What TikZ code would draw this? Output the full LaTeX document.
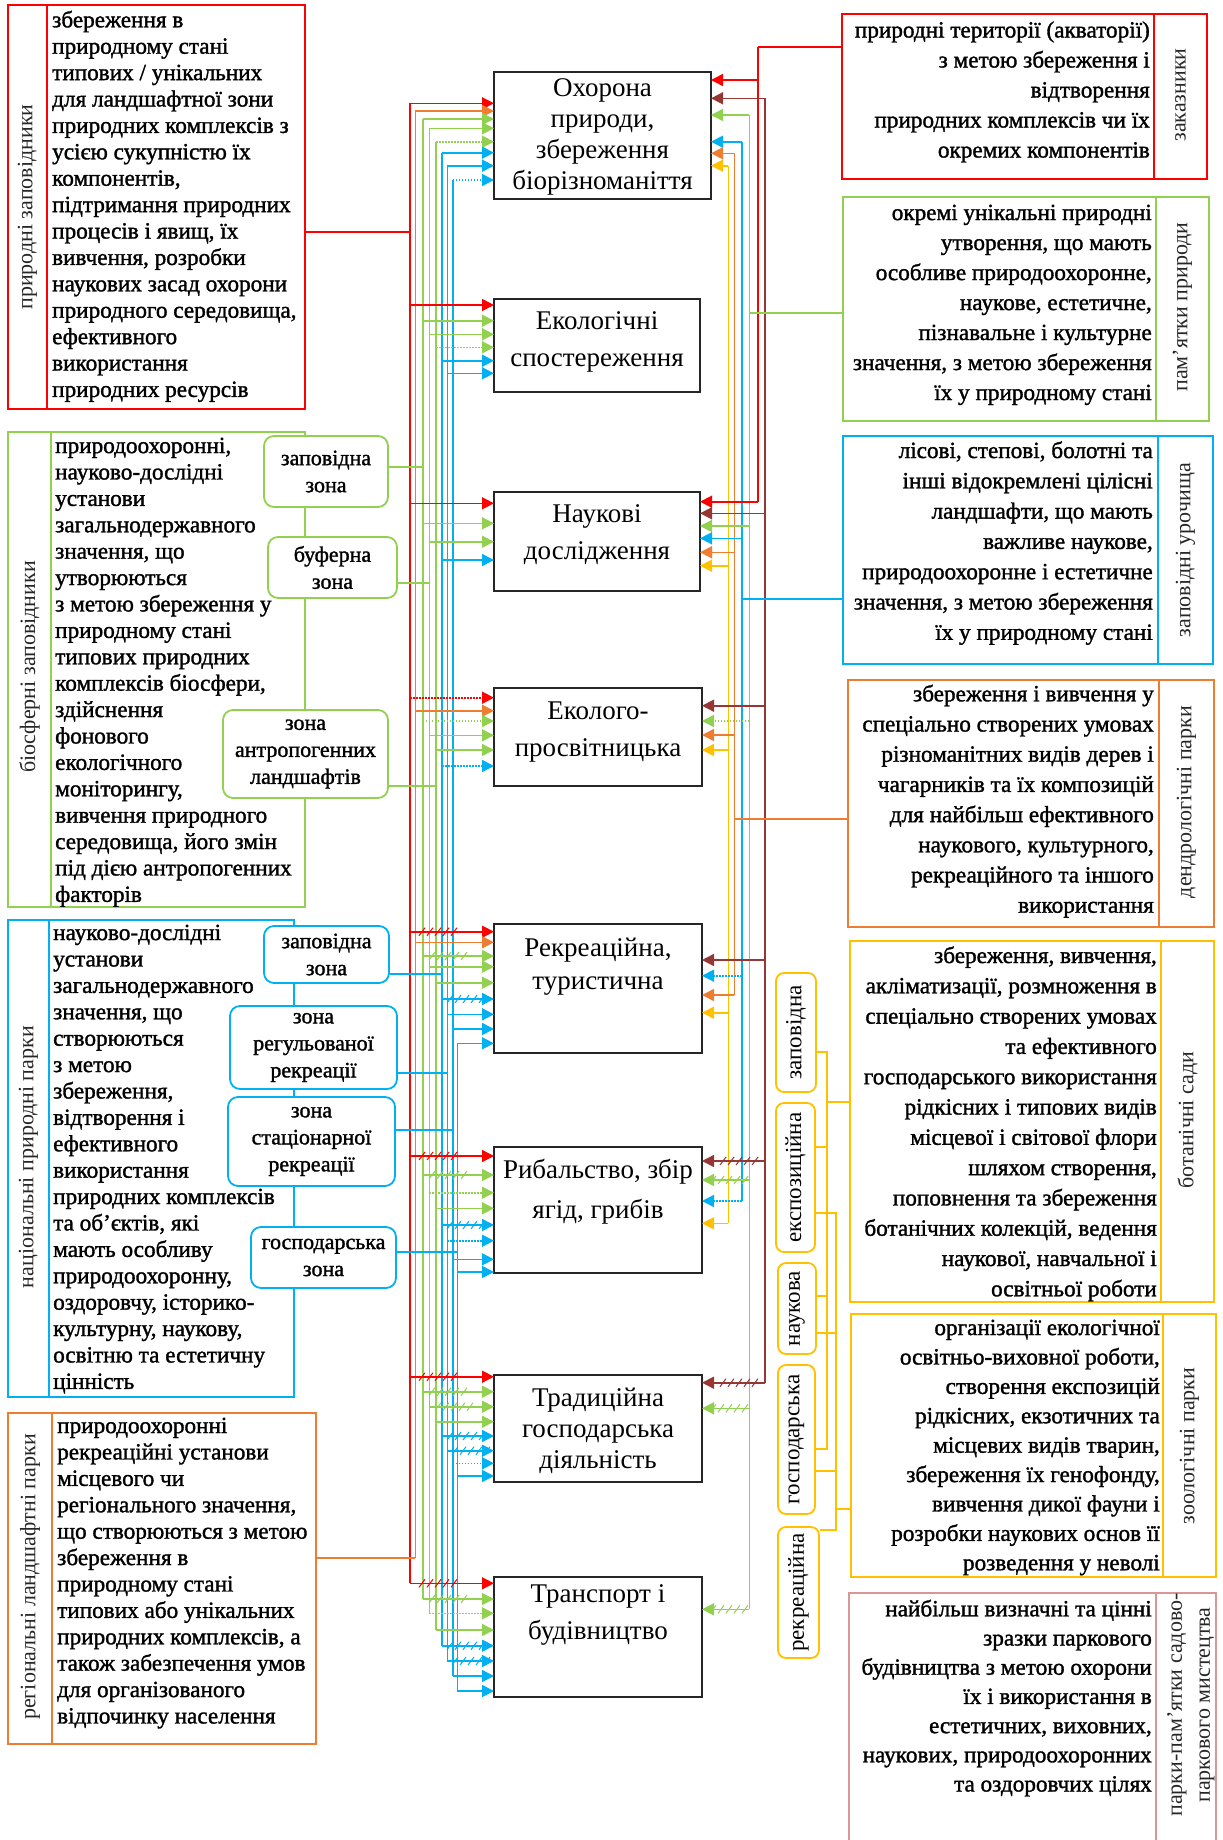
\documentclass[tikz,border=0pt]{standalone}
\usepackage{fontspec}
\usepackage{graphicx}
\setmainfont{Liberation Serif}
\newfontfamily\bodyf[FakeBold=1.4]{Liberation Serif}
\usetikzlibrary{arrows.meta}
\definecolor{cR}{HTML}{FF0000}
\definecolor{cO}{HTML}{ED7D31}
\definecolor{cG}{HTML}{92D050}
\definecolor{cB}{HTML}{00B0F0}
\definecolor{cY}{HTML}{FFC000}
\definecolor{cBr}{HTML}{953735}
\definecolor{cPk}{HTML}{D99694}
\newcommand\la[4]{\draw[arr,#1] (#2,#3) -- (#4.west |- 0,#3);}
\newcommand\ra[4]{\draw[arr,#1] (#2,#3) -- (#4.east |- 0,#3);}
\newcommand\hm[3]{\foreach \k in {0,...,4}{\draw[#1,line width=1pt] ({#2+8*\k-3},{#3+4})--({#2+8*\k+3},{#3-4});}}
\begin{document}
\begin{tikzpicture}[x=1pt,y=-1pt,
 ln/.style={line width=1.6pt},
 arr/.style={line width=1.6pt,-{Triangle[length=12pt,width=12pt]}},
 dotl/.style={dash pattern=on 1.5pt off 1.5pt},
 cbox/.style={draw=black!85,line width=1.6pt,fill=white,inner sep=0,outer sep=0,anchor=north west},
 sbox/.style={line width=1.6pt,inner sep=0,outer sep=0,anchor=north west},
 ltxt/.style={font=\bodyf\fontsize{23.2}{26.4}\selectfont,inner sep=0,align=left,anchor=north west},
 rtxt/.style={font=\bodyf\fontsize{23.2}{30}\selectfont,inner sep=0,align=right,anchor=north east},
 ctxt/.style={inner sep=0,align=center},
 lab/.style={font=\fontsize{22}{28}\selectfont,inner sep=0,rotate=90,text=black!85},
 zone/.style={rounded corners=10pt,fill=white,line width=1.8pt,inner sep=0,align=center,font=\bodyf\fontsize{22}{27}\selectfont},
 yzone/.style={rounded corners=8pt,fill=white,draw=cY,line width=1.8pt,inner sep=0,font=\fontsize{23}{26}\selectfont},
]
\path[fill=white] (0,0) rectangle (1223,1840);
\useasboundingbox (0,0) rectangle (1223,1840);

% ---------- side boxes ----------
\node[sbox,draw=cR,minimum width=297pt,minimum height=404pt] (A) at (8,5) {};
\draw[cR,line width=1.6pt] (47,5) -- (47,409);
\node[sbox,draw=cG,minimum width=297pt,minimum height=475pt] (B) at (8,432) {};
\draw[cG,line width=1.6pt] (51,432) -- (51,907);
\node[sbox,draw=cB,minimum width=286pt,minimum height=477pt] (C) at (8,920) {};
\draw[cB,line width=1.6pt] (49,920) -- (49,1397);
\node[sbox,draw=cO,minimum width=308pt,minimum height=331pt] (D) at (8,1413) {};
\draw[cO,line width=1.6pt] (52,1413) -- (52,1744);

\node[sbox,draw=cR,minimum width=365pt,minimum height=165pt] (K) at (842,14) {};
\draw[cR,line width=1.6pt] (1154,14) -- (1154,179);
\node[sbox,draw=cG,minimum width=366pt,minimum height=224pt] (P) at (843,197) {};
\draw[cG,line width=1.6pt] (1156,197) -- (1156,421);
\node[sbox,draw=cB,minimum width=370pt,minimum height=228pt] (U) at (843,436) {};
\draw[cB,line width=1.6pt] (1158,436) -- (1158,664);
\node[sbox,draw=cO,minimum width=366pt,minimum height=247pt] (Dn) at (848,680) {};
\draw[cO,line width=1.6pt] (1159,680) -- (1159,927);
\node[sbox,draw=cY,minimum width=364pt,minimum height=361pt] (Bs) at (850,941) {};
\draw[cY,line width=1.6pt] (1161,941) -- (1161,1302);
\node[sbox,draw=cY,minimum width=365pt,minimum height=263pt] (Z) at (851,1314) {};
\draw[cY,line width=1.6pt] (1163,1314) -- (1163,1577);
\node[sbox,draw=cPk,minimum width=367pt,minimum height=260pt] (Pp) at (849,1593) {};
\draw[cPk,line width=1.6pt] (1156,1593) -- (1156,1853);

% ---------- zone boxes ----------
\node[zone,draw=cG,minimum width=124pt,minimum height=71pt] (bz1) at (326,471.5) {заповідна\\зона};
\node[zone,draw=cG,minimum width=129pt,minimum height=61pt] (bz2) at (332.5,567.5) {буферна\\зона};
\node[zone,draw=cG,minimum width=165pt,minimum height=88pt] (bz3) at (305.5,754) {зона\\антропогенних\\ландшафтів};
\node[zone,draw=cB,minimum width=125pt,minimum height=57pt] (nz1) at (326.5,954.5) {заповідна\\зона};
\node[zone,draw=cB,minimum width=167pt,minimum height=83pt] (nz2) at (313.5,1047.5) {зона\\регульованої\\рекреації};
\node[zone,draw=cB,minimum width=167pt,minimum height=89pt] (nz3) at (311.5,1141.5) {зона\\стаціонарної\\рекреації};
\node[zone,draw=cB,minimum width=145pt,minimum height=61pt] (nz4) at (323.5,1257.5) {господарська\\зона};

\node[yzone,minimum width=40pt,minimum height=119pt] (y1) at (796,1032.5) {\rotatebox{90}{заповідна}};
\node[yzone,minimum width=39pt,minimum height=149pt] (y2) at (795.5,1177.5) {\rotatebox{90}{експозиційна}};
\node[yzone,minimum width=38pt,minimum height=91pt] (y3) at (797,1308.5) {\rotatebox{90}{наукова}};
\node[yzone,minimum width=37pt,minimum height=149pt] (y4) at (796.5,1439.5) {\rotatebox{90}{господарська}};
\node[yzone,minimum width=41pt,minimum height=131pt] (y5) at (798.5,1592.5) {\rotatebox{90}{рекреаційна}};

% ---------- central boxes ----------
\node[cbox,minimum width=217pt,minimum height=127pt] (c1) at (494,72) {};
\node[cbox,minimum width=206pt,minimum height=93pt] (c2) at (494,299) {};
\node[cbox,minimum width=206pt,minimum height=99pt] (c3) at (494,492) {};
\node[cbox,minimum width=208pt,minimum height=98pt] (c4) at (494,688) {};
\node[cbox,minimum width=208pt,minimum height=129pt] (c5) at (494,924) {};
\node[cbox,minimum width=208pt,minimum height=126pt] (c6) at (494,1147) {};
\node[cbox,minimum width=208pt,minimum height=107pt] (c7) at (494,1375) {};
\node[cbox,minimum width=208pt,minimum height=120pt] (c8) at (494,1577) {};

\node[ctxt,font=\fontsize{27}{31}\selectfont] (t1) at (602.5,136.5) {Охорона\\природи,\\збереження\\біорізноманіття};
\node[ctxt,font=\fontsize{27}{37}\selectfont] (t2) at (597,341.5) {Екологічні\\спостереження};
\node[ctxt,font=\fontsize{27}{37}\selectfont] (t3) at (597,535) {Наукові\\дослідження};
\node[ctxt,font=\fontsize{27}{37}\selectfont] (t4) at (598,731.7) {Еколого-\\просвітницька};
\node[ctxt,font=\fontsize{27}{33.5}\selectfont] (t5) at (598,966.7) {Рекреаційна,\\туристична};
\node[ctxt,font=\fontsize{27}{40}\selectfont] (t6) at (598,1191.7) {Рибальство, збір\\ягід, грибів};
\node[ctxt,font=\fontsize{27}{31}\selectfont] (t7) at (598,1431) {Традиційна\\господарська\\діяльність};
\node[ctxt,font=\fontsize{27}{37}\selectfont] (t8) at (598,1615) {Транспорт і\\будівництво};

% ---------- buses ----------
\draw[ln,cR] (410,103.3) -- (410,1583.3);
\draw[ln,cO] (415.3,111) -- (415.3,1558);
\draw[ln,cG] (422.7,119) -- (422.7,1599);
\draw[ln,cG] (429.3,128.3) -- (429.3,1613.3);
\draw[ln,cG] (436,141.7) -- (436,1630);
\draw[ln,cB] (442,152.7) -- (442,1645.7);
\draw[ln,cB] (447.3,165.7) -- (447.3,1661);
\draw[ln,cB] (452.7,180) -- (452.7,1676);
\draw[ln,cB] (457.3,1043.3) -- (457.3,1691);

\draw[ln,cY] (728.3,165.7) -- (728.3,1223.3);
\draw[ln,cO] (734.3,153.3) -- (734.3,995);
\draw[ln,cB] (741.7,141.7) -- (741.7,1201);
\draw[ln,cG] (749.3,115) -- (749.3,1609.3);
\draw[ln,cR] (757.7,46.7) -- (757.7,501.7);
\draw[ln,cBr] (765,98.3) -- (765,1382.7);

% ---------- connectors from boxes to buses ----------
\draw[ln,cR] (A.east |- 0,232) -- (410,232);
\draw[ln,cO] (D.east |- 0,1558) -- (415.3,1558);
\draw[ln,cG] (bz1.east |- 0,467) -- (422.7,467);
\draw[ln,cG] (bz2.east |- 0,583) -- (429.3,583);
\draw[ln,cG] (bz3.east |- 0,786) -- (436,786);
\draw[ln,cB] (nz1.east |- 0,974) -- (442,974);
\draw[ln,cB] (nz2.east |- 0,1073) -- (447.3,1073);
\draw[ln,cB] (nz3.east |- 0,1130) -- (452.7,1130);
\draw[ln,cB] (nz4.east |- 0,1252) -- (457.3,1252);
\draw[ln,cR] (K.west |- 0,46.7) -- (757.7,46.7);
\draw[ln,cG] (P.west |- 0,313) -- (749.3,313);
\draw[ln,cB] (U.west |- 0,599) -- (741.7,599);
\draw[ln,cO] (Dn.west |- 0,819) -- (734.3,819);

% yellow tree
\draw[ln,cY] (y1.east |- 0,1052) -- (827,1052) -- (827,1449) -- (y4.east |- 0,1449);
\draw[ln,cY] (y2.east |- 0,1147) -- (827,1147);
\draw[ln,cY] (y3.east |- 0,1296) -- (827,1296);
\draw[ln,cY] (827,1102) -- (Bs.west |- 0,1102);
\draw[ln,cY] (y2.east |- 0,1213) -- (836,1213) -- (836,1530) -- (y5.east |- 0,1530);
\draw[ln,cY] (y3.east |- 0,1333) -- (836,1333);
\draw[ln,cY] (y4.east |- 0,1471) -- (836,1471);
\draw[ln,cY] (836,1509) -- (Z.west |- 0,1509);

% ---------- left arrows ----------
\la{cR}{410}{103.3}{c1} \la{cO}{415.3}{111}{c1} \la{cG}{422.7}{119}{c1} \la{cG}{429.3}{128.3}{c1}
\la{cG,dotl}{436}{141.7}{c1} \la{cB}{442}{152.7}{c1} \la{cB}{447.3}{165.7}{c1} \la{cB,dotl}{452.7}{180}{c1}

\la{cR}{410}{305}{c2} \la{cG}{422.7}{320.7}{c2} \la{cG}{429.3}{334.3}{c2} \la{cG,dotl}{436}{347.3}{c2}
\la{cB}{442}{360.7}{c2} \la{cB}{447.3}{373.3}{c2}

\la{cR}{410}{503.3}{c3} \la{cG}{422.7}{523.3}{c3} \la{cG}{429.3}{541.7}{c3} \la{cB}{442}{560}{c3}

\la{cR,dotl}{410}{697.7}{c4} \la{cO}{415.3}{710.7}{c4} \la{cG,dotl}{422.7}{721}{c4} \la{cG}{429.3}{735.3}{c4}
\la{cG}{436}{750}{c4} \la{cB,dotl}{442}{766}{c4}

\la{cR}{410}{931.7}{c5} \la{cO}{415.3}{942.3}{c5} \la{cG}{422.7}{956}{c5} \la{cG}{429.3}{966.7}{c5}
\la{cG}{436}{982.7}{c5} \la{cB}{442}{999}{c5} \la{cB}{447.3}{1014.3}{c5} \la{cB}{452.7}{1029}{c5} \la{cB}{457.3}{1043.3}{c5}
\hm{cR}{422}{931.7} \hm{cG}{432}{956} \hm{cB}{450}{999}

\la{cR}{410}{1156}{c6} \la{cG}{422.7}{1175}{c6} \la{cG,dotl}{429.3}{1192.7}{c6} \la{cG}{436}{1208.3}{c6}
\la{cB}{442}{1225}{c6} \la{cB,dotl}{447.3}{1240.7}{c6} \la{cB}{452.7}{1259.3}{c6} \la{cB}{457.3}{1272}{c6}
\hm{cR}{422}{1156} \hm{cG}{432}{1175} \hm{cB}{450}{1225}

\la{cR}{410}{1376.7}{c7} \la{cG}{422.7}{1391.7}{c7} \la{cG}{429.3}{1406.7}{c7} \la{cG}{436}{1421.7}{c7}
\la{cB}{442}{1436}{c7} \la{cB}{447.3}{1450.7}{c7} \la{cB,dotl}{452.7}{1463.3}{c7} \la{cB}{457.3}{1476}{c7}
\hm{cR}{422}{1376.7} \hm{cG}{432}{1391.7} \hm{cG}{438}{1406.7} \hm{cB}{450}{1436} \hm{cB}{455}{1450.7}

\la{cR}{410}{1583.3}{c8} \la{cG}{422.7}{1599}{c8} \la{cG,dotl}{429.3}{1613.3}{c8} \la{cG}{436}{1630}{c8}
\la{cB}{442}{1645.7}{c8} \la{cB}{447.3}{1661}{c8} \la{cB}{452.7}{1676}{c8} \la{cB}{457.3}{1691}{c8}
\hm{cR}{422}{1583.3} \hm{cG}{432}{1599} \hm{cB}{450}{1645.7} \hm{cB}{455}{1661}

% ---------- right arrows ----------
\ra{cR}{757.7}{80}{c1} \ra{cBr}{765}{98.3}{c1} \ra{cG}{749.3}{115}{c1} \ra{cB}{741.7}{141.7}{c1}
\ra{cO}{734.3}{153.3}{c1} \ra{cY}{728.3}{165.7}{c1}

\ra{cR}{757.7}{501.7}{c3} \ra{cBr}{765}{513.3}{c3} \ra{cG}{749.3}{526}{c3} \ra{cB}{741.7}{538.3}{c3}
\ra{cO}{734.3}{552.3}{c3} \ra{cY}{728.3}{565.7}{c3}

\ra{cBr}{765}{705.7}{c4} \ra{cG,dotl}{749.3}{721}{c4} \ra{cO}{734.3}{735}{c4} \ra{cY}{728.3}{750}{c4}

\ra{cBr}{765}{960}{c5} \ra{cB,dotl}{741.7}{975.7}{c5} \ra{cO}{734.3}{995}{c5} \ra{cY}{728.3}{1012.7}{c5}

\ra{cBr}{765}{1161}{c6} \ra{cG}{749.3}{1180}{c6} \ra{cB,dotl}{741.7}{1201}{c6} \ra{cY}{728.3}{1223.3}{c6}
\hm{cBr}{723}{1161} \hm{cG}{713}{1180}

\ra{cBr}{765}{1382.7}{c7} \ra{cG}{749.3}{1408.3}{c7}
\hm{cBr}{723}{1382.7} \hm{cG}{713}{1408.3}

\ra{cG}{749.3}{1609.3}{c8}
\hm{cG}{713}{1609.3}

% ---------- texts ----------
\node[ltxt] (tA) at (52,10.5) {збереження в\\природному стані\\типових / унікальних\\для ландшафтної зони\\природних комплексів з\\усією сукупністю їх\\компонентів,\\підтримання природних\\процесів і явищ, їх\\вивчення, розробки\\наукових засад охорони\\природного середовища,\\ефективного\\використання\\природних ресурсів};
\node[ltxt] (tB) at (55,437.5) {природоохоронні,\\науково-дослідні\\установи\\загальнодержавного\\значення, що\\утворюються\\з метою збереження у\\природному стані\\типових природних\\комплексів біосфери,\\здійснення\\фонового\\екологічного\\моніторингу,\\вивчення  природного\\середовища, його змін\\під дією антропогенних\\факторів};
\node[ltxt] (tC) at (53,924.5) {науково-дослідні\\установи\\загальнодержавного\\значення, що\\створюються\\ з метою\\збереження,\\відтворення і\\ефективного\\використання\\природних комплексів\\та об’єктів, які\\мають особливу\\природоохоронну,\\оздоровчу, історико-\\культурну, наукову,\\освітню та естетичну\\цінність};
\node[ltxt] (tD) at (57,1417.5) {природоохоронні\\рекреаційні установи\\місцевого  чи\\регіонального значення,\\що створюються з метою\\збереження в\\природному стані\\типових або унікальних\\природних комплексів,  а\\також забезпечення умов\\для організованого\\відпочинку населення};

\node[rtxt] (tK) at (1150,21.2) {природні території (акваторії)\\з метою збереження і\\відтворення\\природних комплексів чи їх\\окремих компонентів};
\node[rtxt] (tP) at (1152,204.5) {окремі унікальні природні\\утворення, що мають\\особливе природоохоронне,\\наукове, естетичне,\\пізнавальне і культурне\\значення, з метою збереження\\їх у природному стані};
\node[rtxt,font=\bodyf\fontsize{23.2}{30.3}\selectfont] (tU) at (1153,441.2) {лісові, степові, болотні та\\інші відокремлені цілісні\\ландшафти, що мають\\важливе наукове,\\природоохоронне і естетичне\\значення, з метою збереження\\їх у природному стані};
\node[rtxt,font=\bodyf\fontsize{23.2}{30.2}\selectfont] (tDn) at (1154,684.5) {збереження і вивчення  у\\спеціально створених умовах\\різноманітних видів дерев і\\чагарників та їх композицій\\для найбільш ефективного\\наукового, культурного,\\рекреаційного та іншого\\використання};
\node[rtxt,font=\bodyf\fontsize{23.2}{30.3}\selectfont] (tBs) at (1157,946.2) {збереження, вивчення,\\акліматизації, розмноження в\\спеціально створених умовах\\та ефективного\\господарського використання\\рідкісних і типових видів\\місцевої і світової флори\\шляхом створення,\\поповнення та збереження\\ботанічних колекцій, ведення\\наукової, навчальної і\\освітньої роботи};
\node[rtxt,font=\bodyf\fontsize{23.2}{29.4}\selectfont] (tZ) at (1160,1319.5) {організації екологічної\\освітньо-виховної роботи,\\створення експозицій\\рідкісних, екзотичних та\\місцевих  видів  тварин,\\збереження їх генофонду,\\вивчення дикої фауни і\\розробки наукових основ її\\розведення у неволі};
\node[rtxt,font=\bodyf\fontsize{23.2}{29.2}\selectfont] (tPp) at (1152,1599.5) {найбільш визначні та цінні\\зразки паркового\\будівництва з метою охорони\\їх і використання в\\естетичних, виховних,\\наукових, природоохоронних\\та оздоровчих цілях};

% ---------- rotated labels ----------
\node[lab] (lA) at (27.5,207) {природні заповідники};
\node[lab] (lB) at (29.5,667) {біосферні заповідники};
\node[lab] (lC) at (28.5,1157) {національні природні парки};
\node[lab] (lD) at (30,1577) {регіональні ландшафтні парки};
\node[lab] (lK) at (1180.5,95) {заказники};
\node[lab] (lP) at (1182.5,307) {пам’ятки природи};
\node[lab] (lU) at (1185.5,550) {заповідні урочища};
\node[lab] (lDn) at (1186.5,802) {дендрологічні парки};
\node[lab] (lBs) at (1187.5,1120) {ботанічні сади};
\node[lab] (lZ) at (1189.5,1446) {зоологічні парки};
\node[lab,align=center] (lPp) at (1191,1705) {парки-пам’ятки садово-\\паркового мистецтва};
\end{tikzpicture}
\end{document}
